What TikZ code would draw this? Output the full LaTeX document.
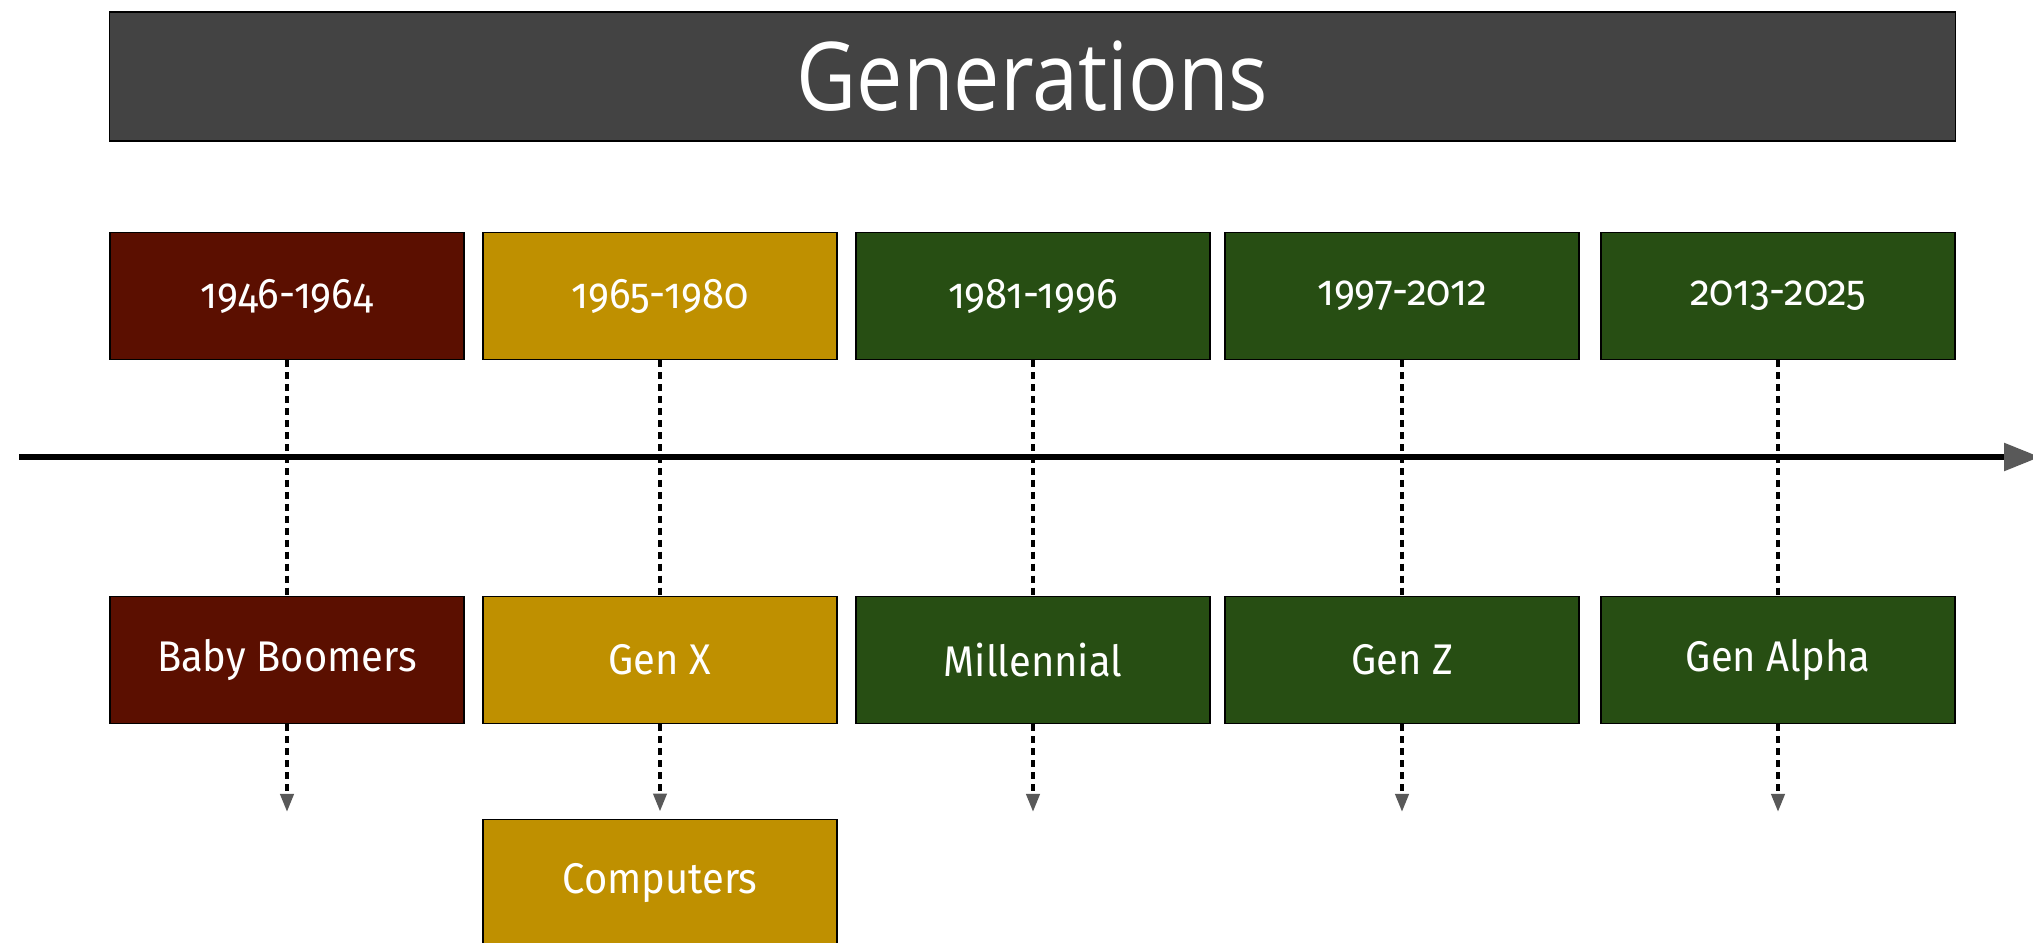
\documentclass[tikz,border=0pt]{standalone}
\usepackage{fontspec}
\setmainfont[Numbers = OldStyle, FakeStretch = 0.93]{Fira Sans}
\newfontfamily\titlefont[FakeStretch = 0.87]{Open Sans}
\usetikzlibrary{arrows.meta}
\definecolor{barGray}{HTML}{434343}
\definecolor{boomRed}{HTML}{5B0F00}
\definecolor{genGold}{HTML}{BF9000}
\definecolor{genGreen}{HTML}{274E13}
\definecolor{tipGray}{HTML}{595959}

\begin{document}
\begin{tikzpicture}[x = 0.01cm, y = -0.01cm,
 genbox/.style = {draw = black, line width = 0.5pt, minimum width = 3.54cm, minimum height = 1.27cm, inner sep = 0pt, text = white, font = \fontsize{12.2}{14}\selectfont},
 link/.style = {black, line width = 1.1pt, dash pattern = on 2pt off 1.4pt},
 linkarrow/.style = {link, -{Triangle[length = 0.18cm, width = 0.13cm, color = tipGray]}}]
 \useasboundingbox (0,0) rectangle (2033,943);
\node [draw = black, line width = 0.5pt, fill = barGray, minimum width = 18.45cm, minimum height = 1.29cm, text = white, font = \titlefont\fontsize{27}{32}\selectfont] (title) at (1032.5,76.5) {Generations};
\coordinate (axL) at (19,457);
\coordinate (axR) at (2040,457);
\draw [black, line width = 1.6pt, -{Triangle[length = 0.36cm, width = 0.27cm, color = tipGray]}] (axL) -- (axR);
\node [genbox, fill = boomRed] (d1) at (287,296) {1946-1964};
\node [genbox, fill = genGold] (d2) at (660,296) {1965-1980};
\node [genbox, fill = genGreen] (d3) at (1033,296) {1981-1996};
\node [genbox, fill = genGreen] (d4) at (1402,296) {1997-2012};
\node [genbox, fill = genGreen] (d5) at (1778,296) {2013-2025};
\node [genbox, fill = boomRed] (g1) at (287,660) {Baby Boomers};
\node [genbox, fill = genGold] (g2) at (660,660) {Gen X};
\node [genbox, fill = genGreen] (g3) at (1033,660) {Millennial};
\node [genbox, fill = genGreen] (g4) at (1402,660) {Gen Z};
\node [genbox, fill = genGreen] (g5) at (1778,660) {Gen Alpha};
\node [genbox, fill = genGold] (comp) at (660,883) {Computers};
\draw [link] (d1.south) -- (g1.north);
\draw [link] (d2.south) -- (g2.north);
\draw [link] (d3.south) -- (g3.north);
\draw [link] (d4.south) -- (g4.north);
\draw [link] (d5.south) -- (g5.north);
\coordinate (e1) at (287,812);
\coordinate (e3) at (1033,812);
\coordinate (e4) at (1402,812);
\coordinate (e5) at (1778,812);
\draw [linkarrow] (g1.south) -- (e1);
\draw [linkarrow, shorten > = 0.07cm] (g2.south) -- (comp.north);
\draw [linkarrow] (g3.south) -- (e3);
\draw [linkarrow] (g4.south) -- (e4);
\draw [linkarrow] (g5.south) -- (e5);
\end{tikzpicture}
\end{document}
